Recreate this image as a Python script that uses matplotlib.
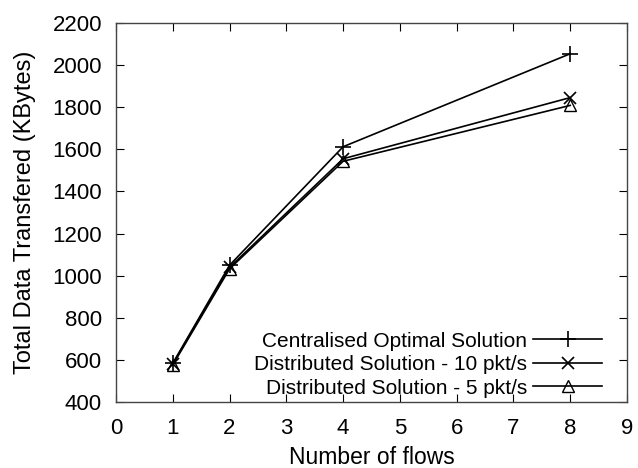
import matplotlib
matplotlib.use("Agg")
import matplotlib.pyplot as plt

plt.rcParams['font.family'] = ['Liberation Sans', 'DejaVu Sans']

# flows vs. total data transferred
flows = [1, 2, 4, 8]
centralised = [585, 1050, 1612, 2053]
dist_10 = [582, 1040, 1555, 1845]
dist_5 = [577, 1033, 1543, 1808]

labels = ["Centralised Optimal Solution",
          "Distributed Solution - 10 pkt/s",
          "Distributed Solution - 5 pkt/s"]

fig = plt.figure(figsize=(6.38, 4.68), dpi=100)
ax = fig.add_axes([0.1818, 0.1404, 0.801, 0.811])

ax.plot(flows, centralised, color='black', lw=1.2, marker='+', ms=12, mew=1.2, label=labels[0])
ax.plot(flows, dist_10, color='black', lw=1.2, marker='x', ms=9, mew=1.2, label=labels[1])
ax.plot(flows, dist_5, color='black', lw=1.2, marker='^', ms=8, mew=1.0,
        mfc='none', label=labels[2])

ax.set_xlim(0, 9)
ax.set_ylim(400, 2200)
ax.set_xticks(range(0, 10))
ax.set_yticks(range(400, 2201, 200))
ax.tick_params(direction='in', length=6, top=True, right=True, labelsize=16)
ax.tick_params(axis='x', pad=11)
ax.tick_params(axis='y', pad=10)
for s in ax.spines.values():
    s.set_color('#444444')
    s.set_linewidth(1.0)

ax.set_xlabel("Number of flows", fontsize=16.5, labelpad=5)
ax.set_ylabel("Total Data Transfered (KBytes)", fontsize=17, labelpad=12)

leg = ax.legend(loc='lower right', markerfirst=False, frameon=False, fontsize=15,
                handlelength=3.3, handletextpad=0.3, labelspacing=0.22,
                borderaxespad=0, borderpad=0, bbox_to_anchor=(0.951, 0.012))
# right-align the entries so the text lines up against the samples
for col in leg._legend_handle_box.get_children():
    col.align = "right"

fig.savefig("out.png", dpi=100)
